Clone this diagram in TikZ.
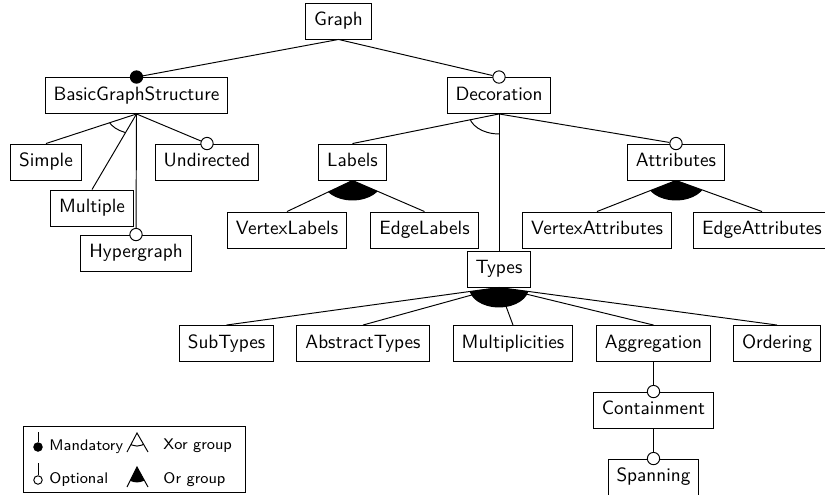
\documentclass[tikz,border=0pt]{standalone}
\usepackage{tikz}
\tikzset{
  fd_box/.style = {rectangle, draw=black, font=\sffamily, inner xsep=4.4pt,
    inner ysep=0pt, text height=7.2pt, text depth=2.2pt, minimum height=18.7pt},% feature box
  fd_mand/.style = {circle, draw=black, fill=black, inner sep=0pt,
    minimum size=6.4pt},% mandatory end
  fd_opt/.style = {circle, draw=black, fill=white, inner sep=0pt,
    minimum size=6.4pt},% optional end
  fd_leg/.style = {font=\sffamily\fontsize{8}{10}\selectfont, anchor=west,
    inner sep=0pt}% legend text
}

\begin{document}
\begin{tikzpicture}[x=0.52pt, y=-0.52pt, line width=0.5pt]
\useasboundingbox (0,0) rectangle (825,495);
% features
\node [fd_box] (graph) at (338.5,21) {Graph};
\node [fd_box] (bgs) at (136.5,95.5) {BasicGraphStructure};
\node [fd_box] (deco) at (499,95.5) {Decoration};
\node [fd_box] (simple) at (46,162) {Simple};
\node [fd_box] (multiple) at (92,208) {Multiple};
\node [fd_box] (hyper) at (136,253) {Hypergraph};
\node [fd_box] (undir) at (207,162) {Undirected};
\node [fd_box] (labels) at (352.5,162) {Labels};
\node [fd_box] (attr) at (676,162) {Attributes};
\node [fd_box] (vlabels) at (287,230) {VertexLabels};
\node [fd_box] (elabels) at (424.5,230) {EdgeLabels};
\node [fd_box] (vattr) at (597,230) {VertexAttributes};
\node [fd_box] (eattr) at (762,230) {EdgeAttributes};
\node [fd_box] (types) at (499,269) {Types};
\node [fd_box] (subtypes) at (226.5,343.5) {SubTypes};
\node [fd_box] (abstract) at (363,343.5) {AbstractTypes};
\node [fd_box] (multi) at (513,343.5) {Multiplicities};
\node [fd_box] (aggr) at (653.5,343.5) {Aggregation};
\node [fd_box] (ordering) at (777,343.5) {Ordering};
\node [fd_box] (cont) at (653.5,410) {Containment};
\node [fd_box] (span) at (653.5,477) {Spanning};
% mandatory and optional ends
\node [fd_mand] (m_bgs) at (bgs.north) {};
\node [fd_opt] (o_deco) at (deco.north) {};
\node [fd_opt] (o_undir) at (undir.north) {};
\node [fd_opt] (o_hyper) at (hyper.north) {};
\node [fd_opt] (o_attr) at (attr.north) {};
\node [fd_opt] (o_cont) at (cont.north) {};
\node [fd_opt] (o_span) at (span.north) {};
% groups
\begin{scope}
  \clip (bgs.south) -- (simple.north) -- (multiple.north) -- cycle;
  \draw (bgs.south) ellipse [x radius=15.6pt, y radius=10.4pt];
\end{scope}
\begin{scope}
  \clip (deco.south) -- (labels.north) -- (types.north) -- cycle;
  \draw (deco.south) ellipse [x radius=15.6pt, y radius=10.4pt];
\end{scope}
\begin{scope}
  \clip (labels.south) -- (vlabels.north) -- (elabels.north) -- cycle;
  \fill (labels.south) ellipse [x radius=15.6pt, y radius=10.4pt];
\end{scope}
\begin{scope}
  \clip (attr.south) -- (vattr.north) -- (eattr.north) -- cycle;
  \fill (attr.south) ellipse [x radius=15.6pt, y radius=10.4pt];
\end{scope}
\begin{scope}
  \clip (types.south) -- (subtypes.north) -- (ordering.north) -- cycle;
  \fill (types.south) ellipse [x radius=15.6pt, y radius=10.4pt];
\end{scope}
% edges
\draw (graph.south) -- (m_bgs);
\draw (graph.south) -- (o_deco);
\draw (bgs.south) -- (simple.north);
\draw (bgs.south) -- (multiple.north);
\draw (bgs.south) -- (o_hyper);
\draw (bgs.south) -- (o_undir);
\draw (deco.south) -- (labels.north);
\draw (deco.south) -- (types.north);
\draw (deco.south) -- (o_attr);
\draw (labels.south) -- (vlabels.north);
\draw (labels.south) -- (elabels.north);
\draw (attr.south) -- (vattr.north);
\draw (attr.south) -- (eattr.north);
\foreach \c in {subtypes,abstract,multi,aggr,ordering}
  \draw (types.south) -- (\c.north);
\draw (aggr.south) -- (o_cont);
\draw (cont.south) -- (o_span);
% legend
\draw (23,426) rectangle (245,492);
\coordinate (l_mtop) at (38,432);
\coordinate (l_otop) at (38,463);
\node [fd_mand, minimum size=4.4pt] (l_mand) at (38,447) {};
\node [fd_opt, minimum size=4.4pt] (l_opt) at (38,480) {};
\draw (l_mtop) -- (l_mand);
\draw (l_otop) -- (l_opt);
\node [fd_leg] (t_mand) at (49,447) {Mandatory};
\node [fd_leg] (t_opt) at (49,479.5) {Optional};
\coordinate (x_top) at (137,433);
\coordinate (x_l) at (127,452);
\coordinate (x_r) at (148,452);
\draw (x_l) -- (x_top) -- (x_r);
\begin{scope}
  \clip (x_top) -- (x_l) -- (x_r) -- cycle;
  \draw (x_top) circle [radius=6.8pt];
\end{scope}
\coordinate (r_top) at (137,467);
\coordinate (r_l) at (127,487);
\coordinate (r_r) at (148,487);
\draw (r_l) -- (r_top) -- (r_r);
\begin{scope}
  \clip (r_top) -- (r_l) -- (r_r) -- cycle;
  \fill (r_top) circle [radius=8pt];
\end{scope}
\node [fd_leg] (t_xor) at (163,446) {Xor group};
\node [fd_leg] (t_or) at (163,479.5) {Or group};
\end{tikzpicture}
\end{document}
